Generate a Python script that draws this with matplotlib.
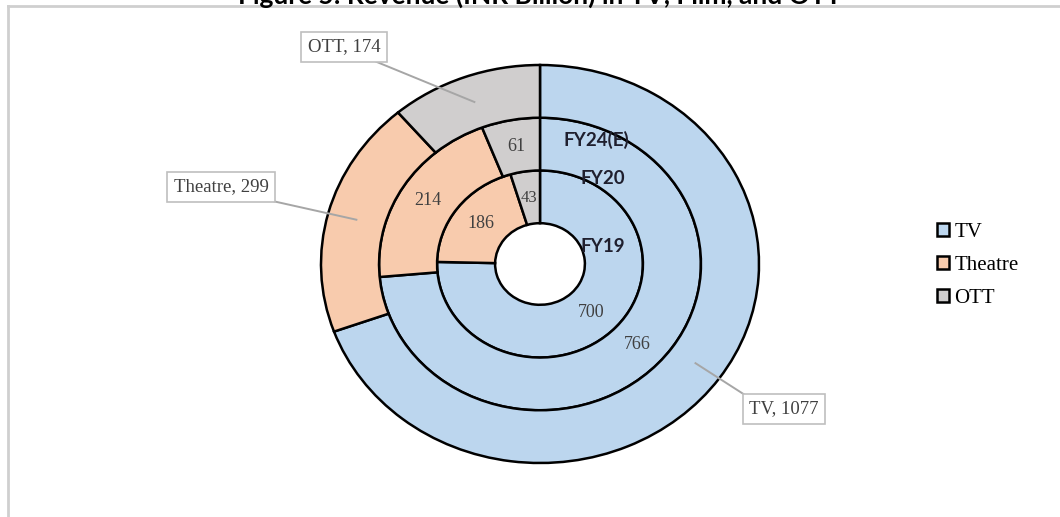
import numpy as np
import matplotlib.pyplot as plt
from matplotlib.lines import Line2D

categories = ["TV", "Theatre", "OTT"]
years = ["FY19", "FY20", "FY24(E)"]
fy19 = [700, 186, 43]
fy20 = [766, 214, 61]
fy24 = [1077, 299, 174]

colors = ["#bcd6ee", "#f8cbad", "#d0cece"]
serif = "Liberation Serif"

W, H = 1060, 517
CX, CY, RX, RY = 540, 264, 219, 199


def px(x, y):
    # pixel position -> data coords of the ellipse axes
    return (x - CX) / RX, (CY - y) / RY


def mid_point(w):
    ang = np.deg2rad((w.theta1 + w.theta2) / 2)
    rm = w.r - w.width / 2
    return rm * np.cos(ang), rm * np.sin(ang)


fig = plt.figure(figsize=(W / 100, H / 100), dpi=100)
ax = fig.add_axes([0, 0, 1, 1])

ring_w = 0.265
rings = [(fy19, 0.47), (fy20, 0.735), (fy24, 1.0)]
all_wedges = []
for vals, r in rings:
    wedges, _ = ax.pie(vals, radius=r, startangle=90, counterclock=False,
                       colors=colors,
                       wedgeprops=dict(width=ring_w, edgecolor="black", linewidth=1.8))
    all_wedges.append(wedges)

ax.set_aspect("auto")
ax.set_xlim(-CX / RX, (W - CX) / RX)
ax.set_ylim(-(H - CY) / RY, CY / RY)
ax.set_axis_off()

# inner two rings: values inside the segments
for (vals, r), wedges in zip(rings[:2], all_wedges[:2]):
    for v, w in zip(vals, wedges):
        x, y = mid_point(w)
        fs = 12 if v < 50 else 13
        ax.text(x, y, str(v), ha="center", va="center", fontsize=fs,
                family=serif, color="#404040")

# outer ring: callout boxes
box_pos = [(784, 409), (221, 187), (344, 47)]
line_start = [(745, 395), (268, 200), (372, 60)]
for cat, v, w, bp, ls in zip(categories, fy24, all_wedges[2], box_pos, line_start):
    x, y = mid_point(w)
    sx, sy = px(*ls)
    ax.plot([sx, x], [sy, y], color="#a6a6a6", lw=1.4, zorder=3)
    bx, by = px(*bp)
    ax.text(bx, by, f"{cat}, {v}", ha="center", va="center", fontsize=13.5,
            family=serif, color="#404040", zorder=4,
            bbox=dict(boxstyle="square,pad=0.35", fc="white", ec="#bfbfbf", lw=1.2))

# ring names
for name, p in zip(years, [(603, 247), (603, 179), (596, 140)]):
    ax.text(*px(*p), name, ha="center", va="center", fontsize=13.5,
            family="Lato", weight="bold", color="#1f1f2e")

# legend
handles = [plt.Rectangle((0, 0), 1, 1, fc=c, ec="black", lw=1.8) for c in colors]
fig.legend(handles, categories, loc="upper left", bbox_to_anchor=(918 / W, 1 - 204 / H),
           frameon=False, prop={"family": serif, "size": 15},
           handlelength=0.6, handleheight=0.6, handletextpad=0.25, labelspacing=0.68)

# chart-area border (left and top only, the rest is cropped)
fig.add_artist(Line2D([8 / W, 8 / W], [0, 1 - 6 / H], color="#cfcfcf", lw=2))
fig.add_artist(Line2D([8 / W, 1], [1 - 6 / H, 1 - 6 / H], color="#cfcfcf", lw=2))

# title, cut off at the top of the image as in the source
fig.text(540 / W, 1 - 4 / H, "Figure 5: Revenue (INR Billion) in TV, Film, and OTT",
         ha="center", va="baseline", fontsize=19, family="Lato", weight="bold",
         color="black")

fig.savefig("out.png", dpi=100)
